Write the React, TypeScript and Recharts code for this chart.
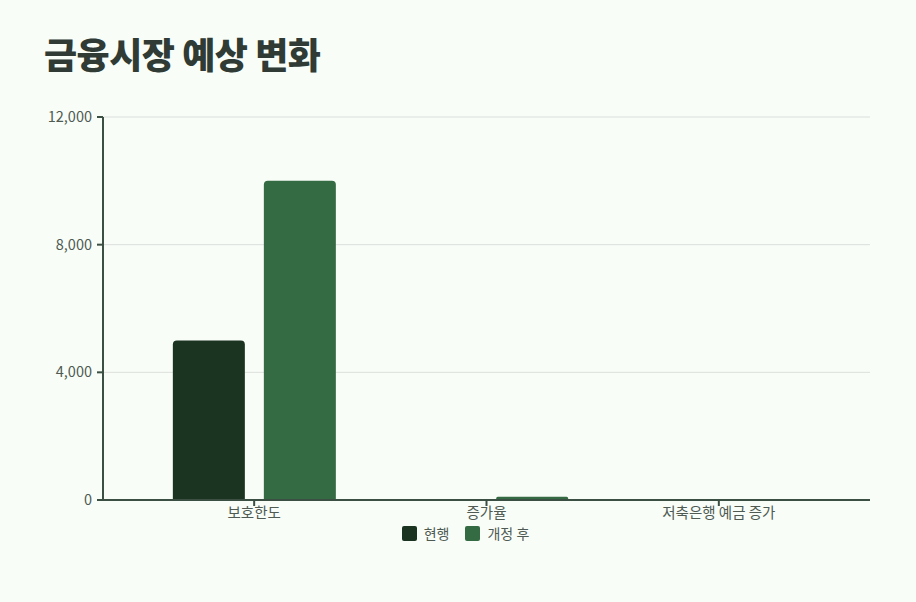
import React from 'react';
import { BarChart, Bar, XAxis, YAxis, CartesianGrid, Legend } from 'recharts';

// 데이터
const categories = ['보호한도', '증가율', '저축은행 예금 증가'];
const seriesNames = ['현행', '개정 후'];
const currentValues = [5000, 0, 0];
const revisedValues = [10000, 100, 0];
const yTicks = [0, 4000, 8000, 12000];

const AXIS_COLOR = '#3b4f43';
const TEXT_COLOR = '#4e5a52';
const FONT = '"Noto Sans CJK KR", "Noto Sans", sans-serif';

const chartData = categories.map((name, i) => ({
  name,
  current: currentValues[i],
  revised: revisedValues[i],
}));

const renderLegend = (props: any) => {
  const items = [...(props.payload || [])].sort(
    (a: any, b: any) => seriesNames.indexOf(a.value) - seriesNames.indexOf(b.value)
  );
  return (
    <div style={{ display: 'flex', justifyContent: 'center', alignItems: 'center', height: 22, fontFamily: FONT, fontSize: 14, color: TEXT_COLOR }}>
      {items.map((entry: any, i: number) => (
        <div key={i} style={{ display: 'flex', alignItems: 'center', marginRight: i === 0 ? 16 : 0 }}>
          <span style={{ display: 'inline-block', width: 15, height: 15, borderRadius: 2, background: entry.color, marginRight: 7 }} />
          <span>{entry.value}</span>
        </div>
      ))}
    </div>
  );
};

const App: React.FC = () => {
  return (
    <div style={{ position: 'absolute', left: 0, top: 0, width: 916, height: 602, background: '#f8fdf8', fontFamily: FONT }}>
      <div style={{ position: 'absolute', left: 44, top: 28, fontSize: 36, fontWeight: 900, letterSpacing: -0.5, color: '#2f3b34', lineHeight: '50px' }}>
        금융시장 예상 변화
      </div>
      <div style={{ position: 'absolute', left: 0, top: 0 }}>
        <BarChart
          width={916}
          height={560}
          data={chartData}
          margin={{ top: 117, right: 46, left: 0, bottom: 16 }}
          barCategoryGap="15%"
          barGap={19}
        >
          <CartesianGrid vertical={false} stroke="#dcdfdc" />
          <XAxis
            dataKey="name"
            height={22}
            padding={{ left: 35, right: 35 }}
            axisLine={{ stroke: AXIS_COLOR, strokeWidth: 2 }}
            tickLine={{ stroke: AXIS_COLOR, strokeWidth: 2 }}
            tick={{ fill: TEXT_COLOR, fontSize: 14.5, fontFamily: FONT }}
          />
          <YAxis
            width={103}
            domain={[0, 12000]}
            ticks={yTicks}
            tickMargin={5}
            tickFormatter={(v: number) => v.toLocaleString('en-US')}
            axisLine={{ stroke: AXIS_COLOR, strokeWidth: 2 }}
            tickLine={{ stroke: AXIS_COLOR, strokeWidth: 2 }}
            tick={{ fill: TEXT_COLOR, fontSize: 14.5, fontFamily: FONT }}
          />
          <Legend
            verticalAlign="bottom"
            content={renderLegend}
            wrapperStyle={{ left: 380, width: 171 }}
          />
          <Bar dataKey="current" name={seriesNames[0]} fill="#1b3321" radius={[4, 4, 0, 0]} isAnimationActive={false} />
          <Bar dataKey="revised" name={seriesNames[1]} fill="#346b43" radius={[4, 4, 0, 0]} isAnimationActive={false} />
        </BarChart>
      </div>
    </div>
  );
};

export default App;
